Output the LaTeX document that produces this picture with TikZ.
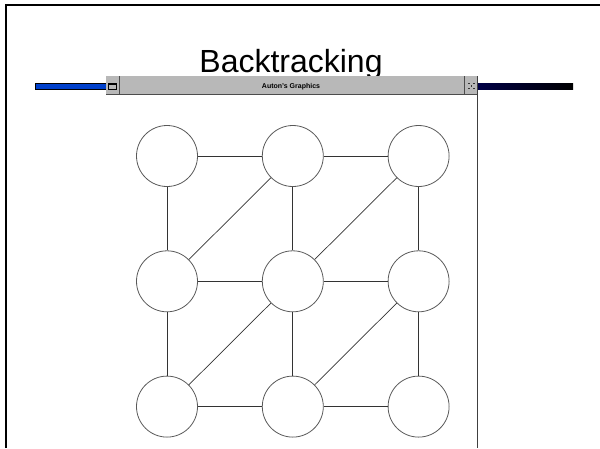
\documentclass[tikz,border=0pt]{standalone}
\usepackage{fontspec}
\setmainfont{Liberation Sans}
\usetikzlibrary{positioning}

\definecolor{barblue}{RGB}{0,64,204}
\definecolor{barnavy}{RGB}{0,0,70}
\definecolor{wingray}{RGB}{184,184,184}

\begin{document}
\begin{tikzpicture}[x=1pt,y=-1pt,node distance=64pt,
    vtx/.style={draw=black!65,circle,line width=0.8pt,minimum size=61pt,inner sep=0pt},
    edge/.style={draw=black!80,line width=0.7pt}]
      \useasboundingbox (0,0) rectangle (600,448);
      % slide frame
      \draw[line width=2pt] (6,448) -- (6,5) -- (600,5);
      \node[anchor=base,font=\fontsize{32}{36}\selectfont] (title) at (291,72) {Backtracking};
      % window title bar
      \draw[barblue,fill=barblue] (35,83) rectangle (106,89);
      \draw[black,line width=0.6pt] (35,83) rectangle (106,89);
      \shade[left color=barnavy,right color=black] (477,83) rectangle (573,89);
      \fill[wingray] (106,76) rectangle (477,94);
      \draw[black!70,line width=0.8pt] (106,94) -- (477,94);
      \draw[black!70,line width=0.8pt] (119,76) -- (119,94);
      \draw[black!70,line width=0.8pt] (464,76) -- (464,94);
      \draw[black!75,line width=0.8pt] (477,76) -- (477,448);
      \draw[black,line width=0.8pt] (108.5,83) rectangle (116,89.5);
      \fill[black] (108.5,83) rectangle (116,85);
      \foreach \dx/\dy in {0/0,-2.5/-2.5,2.5/-2.5,-2.5/2.5,2.5/2.5}
        \fill[black!80] (471.5+\dx-0.8,86+\dy-0.8) rectangle (471.5+\dx+0.8,86+\dy+0.8);
      \node[anchor=base,font=\fontsize{7}{8}\bfseries] (wintitle) at (291,88.5) {Auton's Graphics};
      % the grid of circles
      \node[vtx] (a1) at (167,156) {};
      \node[vtx,right=of a1] (a2) {};
      \node[vtx,right=of a2] (a3) {};
      \node[vtx,below=63.5pt of a1] (b1) {};
      \node[vtx,below=63.5pt of a2] (b2) {};
      \node[vtx,below=63.5pt of a3] (b3) {};
      \node[vtx,below=63.5pt of b1] (c1) {};
      \node[vtx,below=63.5pt of b2] (c2) {};
      \node[vtx,below=63.5pt of b3] (c3) {};
      \draw[edge] (a1)--(a2);
      \draw[edge] (a2)--(a3);
      \draw[edge] (b1)--(b2);
      \draw[edge] (b2)--(b3);
      \draw[edge] (c1)--(c2);
      \draw[edge] (c2)--(c3);
      \draw[edge] (a1)--(b1);
      \draw[edge] (b1)--(c1);
      \draw[edge] (a2)--(b2);
      \draw[edge] (b2)--(c2);
      \draw[edge] (a3)--(b3);
      \draw[edge] (b3)--(c3);
      \draw[edge] (a2)--(b1);
      \draw[edge] (a3)--(b2);
      \draw[edge] (b2)--(c1);
      \draw[edge] (b3)--(c2);
    \end{tikzpicture}
\end{document}
